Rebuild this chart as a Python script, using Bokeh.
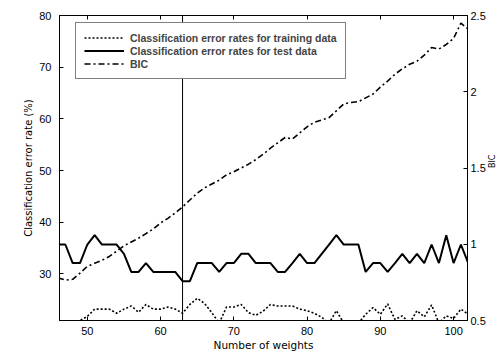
import math
from bokeh.plotting import figure
from bokeh.models import (Range1d, LinearAxis, FixedTicker, Span, Legend, LegendItem,
                          CustomLabelingPolicy)
from bokeh.embed import file_html
from bokeh.resources import INLINE

weights = list(range(46, 103))

test_err = [35.7, 35.7, 32.1, 32.1, 35.7, 37.5, 35.7, 35.7, 35.7, 33.9,
            30.4, 30.4, 32.1, 30.4, 30.4, 30.4, 30.4, 28.6, 28.6, 32.1,
            32.1, 32.1, 30.4, 32.1, 32.1, 33.9, 33.9, 32.1, 32.1, 32.1,
            30.4, 30.4, 32.1, 33.9, 32.1, 32.1, 33.9, 35.7, 37.5, 35.7,
            35.7, 35.7, 30.4, 32.1, 32.1, 30.4, 32.1, 33.9, 32.1, 33.9,
            32.1, 35.7, 32.1, 37.5, 32.1, 35.7, 32.1]

train_err = [20.5, 20.0, 20.5, 21.0, 21.8, 23.2, 23.2, 23.2, 22.4, 23.2,
             23.8, 22.6, 24.1, 23.2, 23.2, 23.6, 23.2, 22.4, 24.1, 25.3,
             24.3, 22.5, 20.5, 23.6, 23.6, 24.1, 22.5, 22.0, 22.8, 24.1,
             23.8, 23.8, 23.8, 23.2, 22.9, 22.4, 21.6, 20.5, 22.9, 20.5,
             20.5, 20.5, 22.2, 23.5, 22.2, 24.2, 21.2, 21.9, 20.5, 22.9,
             21.7, 24.0, 20.5, 21.9, 21.4, 23.2, 22.2]

bic = [0.78, 0.765, 0.77, 0.81, 0.855, 0.875, 0.895, 0.92, 0.955, 0.99,
       1.015, 1.04, 1.07, 1.10, 1.14, 1.17, 1.205, 1.245, 1.29, 1.335,
       1.37, 1.395, 1.42, 1.455, 1.475, 1.50, 1.525, 1.555, 1.59, 1.63,
       1.665, 1.70, 1.69, 1.73, 1.77, 1.80, 1.815, 1.83, 1.875, 1.92,
       1.93, 1.935, 1.96, 1.985, 2.03, 2.07, 2.115, 2.15, 2.18, 2.20,
       2.24, 2.29, 2.28, 2.31, 2.35, 2.45, 2.41]

selected_weights = 63
x_ticks = [50, 60, 70, 80, 90, 100]
y_ticks = [30, 40, 50, 60, 70, 80]
bic_ticks = [0.5, 1, 1.5, 2, 2.5]

FONT = "Liberation Sans"
LABEL_FONT = "DejaVu Sans"

p = figure(width=504, height=355, output_backend="svg", toolbar_location=None,
           x_range=Range1d(46.2, 101.9), y_range=Range1d(21, 80),
           min_border_left=59, min_border_right=36, min_border_top=15, min_border_bottom=35)
p.extra_y_ranges = {"bic": Range1d(0.5, 2.5)}
p.grid.visible = False
p.outline_line_color = "black"
p.outline_line_width = 1
p.background_fill_color = "white"
p.border_fill_color = "white"

def style_axis(ax):
    ax.major_tick_in = 4
    ax.major_tick_out = 0
    ax.minor_tick_line_color = None
    ax.axis_line_color = "black"
    ax.major_tick_line_color = "black"
    ax.major_label_text_font = FONT
    ax.major_label_text_font_size = "11px"
    ax.major_label_text_color = "black"
    ax.axis_label_text_font = LABEL_FONT
    ax.axis_label_text_font_style = "normal"
    ax.axis_label_text_font_size = "10px"
    ax.axis_label_text_color = "black"

xa = p.xaxis[0]
style_axis(xa)
xa.ticker = FixedTicker(ticks=x_ticks)
xa.axis_label = "Number of weights"
xa.axis_label_text_font_size = "10.5px"
xa.major_label_standoff = 6
xa.axis_label_standoff = 1

ya = p.yaxis[0]
style_axis(ya)
ya.ticker = FixedTicker(ticks=y_ticks)
ya.axis_label = "Classification error rate (%)"
ya.major_label_standoff = 8
ya.axis_label_standoff = 2

top = LinearAxis(ticker=FixedTicker(ticks=x_ticks))
style_axis(top)
top.major_label_standoff = 0
top.major_label_policy = CustomLabelingPolicy(code="return new Set()")
p.add_layout(top, "above")

ra = LinearAxis(y_range_name="bic", ticker=FixedTicker(ticks=bic_ticks), axis_label="BIC")
style_axis(ra)
ra.major_label_overrides = {1: "1", 2: "2"}
ra.major_label_standoff = 3
ra.axis_label_standoff = 4
ra.axis_label_text_font_size = "8px"
ra.axis_label_orientation = math.pi / 2
p.add_layout(ra, "right")

r_train = p.line(weights, train_err, line_color="black", line_width=1.6, line_dash="2 2")
r_test = p.line(weights, test_err, line_color="black", line_width=2)
r_bic = p.line(weights, bic, y_range_name="bic", line_color="black", line_width=1.6,
               line_dash="6 3 2 3")

p.add_layout(Span(location=selected_weights, dimension="height", line_color="black", line_width=1))

legend = Legend(items=[
    LegendItem(label="Classification error rates for training data", renderers=[r_train]),
    LegendItem(label="Classification error rates for test data", renderers=[r_test]),
    LegendItem(label="BIC", renderers=[r_bic]),
], location=(16, 241))
legend.margin = 0
legend.padding = 8
legend.spacing = 0
legend.label_height = 13
legend.glyph_height = 13
legend.glyph_width = 40
legend.label_standoff = 6
legend.label_text_font = FONT
legend.label_text_font_size = "10.5px"
legend.label_text_font_style = "bold"
legend.border_line_color = "black"
legend.border_line_width = 1
legend.background_fill_alpha = 1
p.add_layout(legend, "center")

open("out.html", "w").write(file_html(p, INLINE))
